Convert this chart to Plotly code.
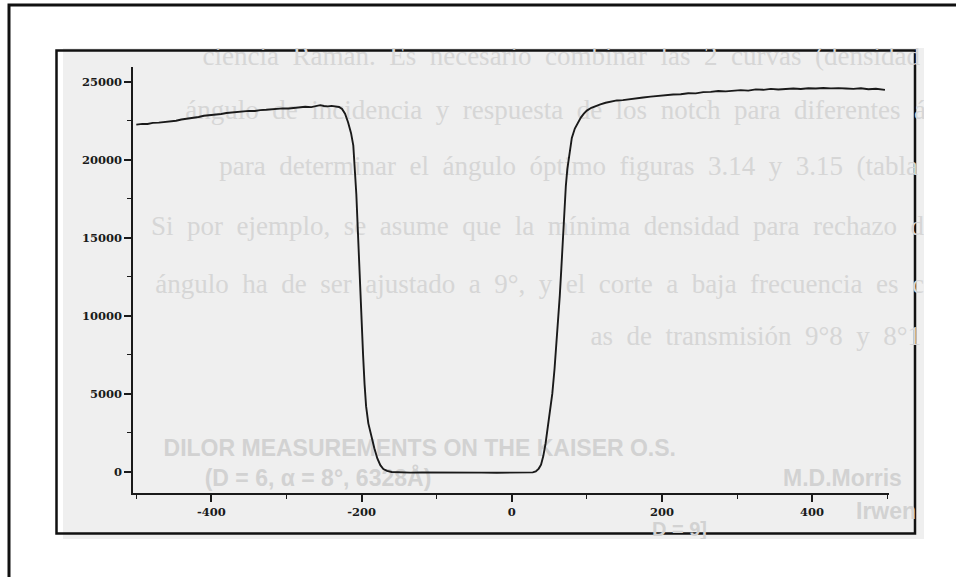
import plotly.graph_objects as go

# ---------------- data ----------------
wavenumber = [
    -500, -492, -485, -478, -470, -462, -455, -447, -440, -432, -425, -417, -410, -402,
    -395, -387, -380, -372, -365, -357, -350, -342, -335, -327, -320, -312, -305, -297,
    -290, -282, -275, -267, -260, -255, -250, -245, -240, -235, -230, -226, -222, -218,
    -214, -211, -209, -207, -205, -203, -202, -200, -198, -196, -194, -191, -187, -183,
    -179, -175, -171, -166, -160, -150, -135, -120, -100, -80, -60, -40, -20, 0, 10, 20,
    28, 32, 36, 39, 42, 45, 48, 51, 54, 57, 60, 62, 64, 66, 68, 70, 72, 74, 77, 80, 84,
    88, 92, 96, 100, 106, 112, 118, 125, 132, 140, 148, 156, 165, 175, 185, 195, 205,
    215, 225, 235, 245, 255, 265, 275, 285, 295, 305, 315, 325, 335, 345, 355, 365, 375,
    385, 395, 405, 415, 425, 435, 445, 455, 465, 475, 485, 497,
]
intensity = [
    22250, 22300, 22290, 22360, 22380, 22420, 22470, 22500, 22580, 22620, 22700, 22740,
    22820, 22850, 22900, 22930, 22990, 23030, 23060, 23080, 23130, 23120, 23180, 23200,
    23230, 23250, 23290, 23280, 23330, 23350, 23390, 23370, 23460, 23500, 23440, 23420,
    23450, 23410, 23380, 23250, 22950, 22400, 21700, 20900, 19500, 17800, 15500, 13000,
    11700, 9800, 7500, 5600, 4200, 3100, 2200, 1500, 850, 420, 170, 50, -20, -50, -60,
    -45, -60, -70, -55, -60, -70, -60, -55, -60, -40, 20, 200, 450, 1000, 1800, 2800,
    3900, 5000, 6600, 8500, 10000, 11300, 13000, 15000, 16800, 18300, 19400, 20600,
    21400, 22000, 22400, 22700, 22950, 23150, 23330, 23450, 23550, 23650, 23720, 23800,
    23820, 23880, 23920, 23990, 24040, 24100, 24120, 24180, 24200, 24260, 24250, 24330,
    24350, 24400, 24380, 24440, 24460, 24430, 24510, 24480, 24540, 24500, 24520, 24560,
    24530, 24580, 24560, 24600, 24570, 24590, 24560, 24540, 24580, 24520, 24550, 24480,
]

x_tick_vals = [-400, -200, 0, 200, 400]
x_tick_text = ["-400", "-200", "0", "200", "400"]
y_tick_vals = [0, 5000, 10000, 15000, 20000, 25000]
y_tick_text = ["0", "5000", "10000", "15000", "20000", "25000"]

# faint text showing through from the back of the scanned page
see_through_serif = [
    "ciencia Raman. Es necesario combinar las 2 curvas (densidad",
    "ángulo de incidencia y respuesta de los notch para diferentes á",
    "para determinar el ángulo óptimo figuras 3.14 y 3.15 (tabla",
    "Si por ejemplo, se asume que la mínima densidad para rechazo de",
    "ángulo ha de ser ajustado a 9°, y el corte a baja frecuencia es con",
    "as de transmisión 9°8 y 8°1",
]
see_through_sans = [
    "DILOR MEASUREMENTS ON THE KAISER O.S.",
    "(D = 6, α = 8°, 6328Å)",
    "M.D.Morris",
    "Irwen",
    "D = 9]",
]

# ---------------- layout helpers (page pixels) ----------------
W, H = 956, 577


def fx(p):
    return p / W


def fy(p):
    return 1 - p / H


serif_pos_x = [920, 926, 918, 936, 951, 921]
serif_pos_y = [58, 112, 168, 228, 286, 338]
sans_pos_x = [676, 318, 783, 856, 652]
sans_pos_y = [450, 480, 480, 513, 531]
sans_size = [23, 23, 23, 23, 20]
sans_anchor = ["middle left", "middle center", "middle right", "middle right", "middle right"]

fig = go.Figure()

# background text layer (hidden page axes, clipped to the scanned area)
fig.add_trace(go.Scatter(
    x=serif_pos_x, y=serif_pos_y,
    text=[t.replace(" ", "\u00a0\u00a0") for t in see_through_serif],
    mode="text", textposition="middle left",
    textfont=dict(family="Liberation Serif", size=27, color="#d6d6d6"),
    cliponaxis=True, hoverinfo="skip", showlegend=False, xaxis="x", yaxis="y",
))
fig.add_trace(go.Scatter(
    x=sans_pos_x, y=sans_pos_y, text=see_through_sans,
    mode="text", textposition=sans_anchor,
    textfont=dict(family="Liberation Sans", size=sans_size, color="#d2d2d2", weight="bold"),
    cliponaxis=True, hoverinfo="skip", showlegend=False, xaxis="x", yaxis="y",
))

# the measured curve
fig.add_trace(go.Scatter(
    x=wavenumber, y=intensity, mode="lines",
    line=dict(color="#1a1a1a", width=1.9),
    hoverinfo="x+y", showlegend=False, xaxis="x2", yaxis="y2",
))

tick_font = dict(family="DejaVu Serif", size=11.5, color="#1a1a1a", weight="bold")
ink = "#1a1a1a"

fig.update_layout(
    width=W, height=H,
    margin=dict(l=0, r=0, t=0, b=0),
    paper_bgcolor="white",
    plot_bgcolor="rgba(0,0,0,0)",
    xaxis=dict(domain=[fx(63), fx(924)], range=[63, 924], visible=False, fixedrange=True),
    yaxis=dict(domain=[fy(539), fy(48)], range=[539, 48], visible=False, fixedrange=True),
    xaxis2=dict(
        domain=[fx(133.3), fx(888.7)], range=[-504, 502], anchor="y2",
        showline=True, linecolor=ink, linewidth=2, mirror=False,
        showgrid=False, zeroline=False,
        tickmode="array", tickvals=x_tick_vals, ticktext=x_tick_text,
        ticks="outside", ticklen=7, tickwidth=1.5, tickcolor=ink,
        minor=dict(tickmode="linear", tick0=0, dtick=100, ticks="outside",
                   ticklen=4, tickwidth=1.3, tickcolor=ink, showgrid=False),
        tickfont=tick_font,
    ),
    yaxis2=dict(
        domain=[fy(493), fy(66.7)], range=[-1365, 25962], anchor="x2",
        showline=True, linecolor=ink, linewidth=2, mirror=False,
        showgrid=False, zeroline=False,
        tickmode="array", tickvals=y_tick_vals, ticktext=y_tick_text,
        ticks="outside", ticklen=7, tickwidth=1.5, tickcolor=ink,
        minor=dict(tickmode="linear", tick0=0, dtick=2500, ticks="outside",
                   ticklen=4, tickwidth=1.3, tickcolor=ink, showgrid=False),
        tickfont=tick_font,
    ),
    shapes=[
        # scanned grey paper area
        dict(type="rect", xref="paper", yref="paper", x0=fx(63), x1=fx(924), y0=fy(539), y1=fy(48),
             fillcolor="#efefef", line=dict(width=0), layer="below"),
        # frame around the scanned picture
        dict(type="rect", xref="paper", yref="paper", x0=fx(56.5), x1=fx(915), y0=fy(533.5), y1=fy(50.5),
             fillcolor="rgba(0,0,0,0)", line=dict(color="#111111", width=2.5), layer="below"),
        # outer page frame
        dict(type="rect", xref="paper", yref="paper", x0=fx(9), x1=fx(970), y0=fy(590), y1=fy(5),
             fillcolor="rgba(0,0,0,0)", line=dict(color="#111111", width=3), layer="below"),
    ],
)

fig.write_html(
    "out.html",
    config={"displayModeBar": False},
    post_script="document.body.style.margin='0';document.body.style.overflow='hidden';",
)
